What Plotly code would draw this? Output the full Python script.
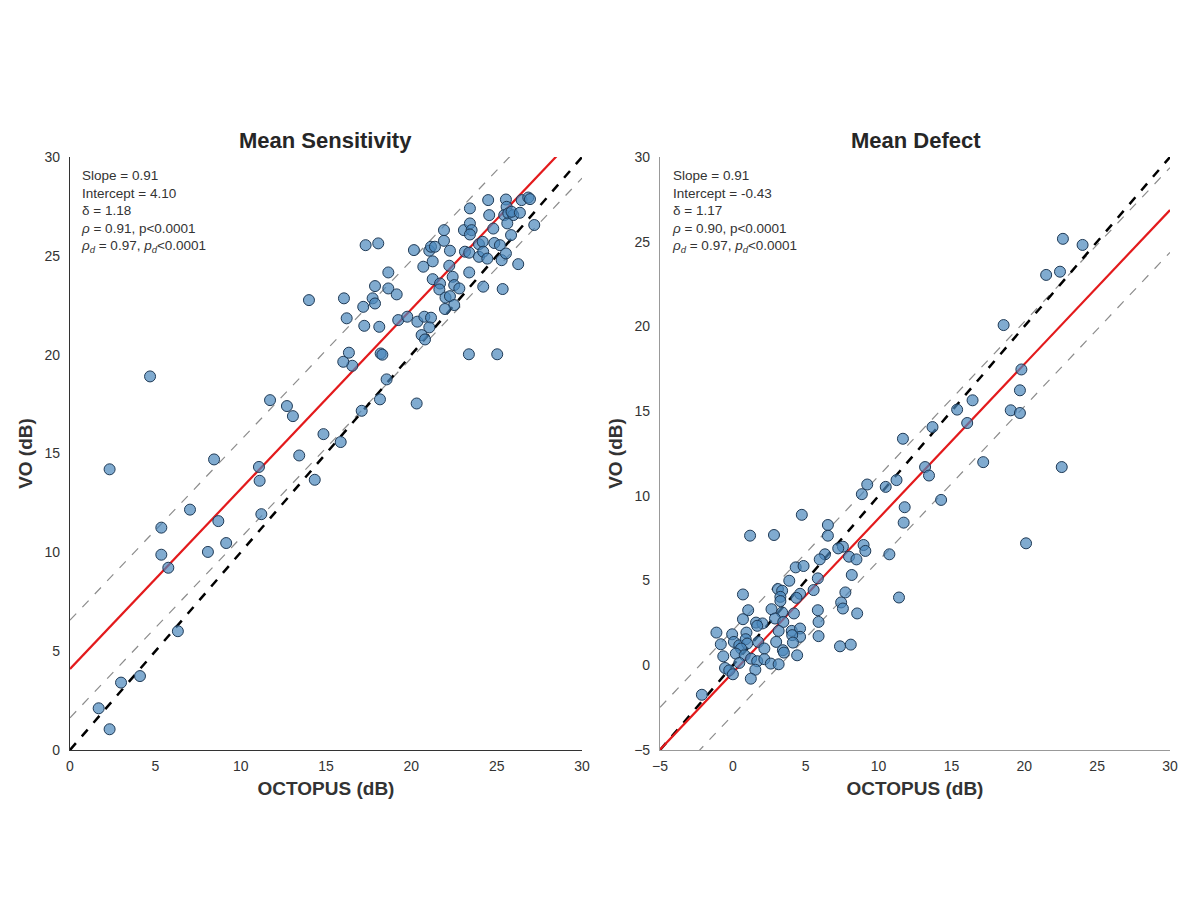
import plotly.graph_objects as go

# Mean Sensitivity panel (OCTOPUS vs VO, dB)
ms_octopus = [
    2.32, 8.44, 11.07, 11.11, 13.43, 14.34, 14.85, 15.86, 7.03, 5.35, 8.69, 11.21,
    5.35, 5.76, 8.08, 9.15, 6.32, 2.99, 4.10, 1.68, 2.32, 4.69, 11.72, 12.71, 13.06,
    14.00, 17.32, 18.06, 16.05, 16.21, 17.18, 17.73, 17.87, 17.87, 18.65, 18.65, 19.14,
    17.24, 18.12, 16.54, 16.01, 16.34, 18.20, 18.30, 18.55, 18.16, 17.09, 20.31, 19.23,
    19.76, 20.35, 20.76, 21.15, 21.05, 20.60, 20.80, 20.15, 21.05, 21.15, 21.38, 21.25,
    20.70, 21.91, 21.91, 22.26, 22.22, 21.25, 21.68, 21.64, 22.42, 22.51, 22.81, 22.00,
    22.26, 22.51, 21.97, 23.08, 23.43, 23.43, 23.53, 23.43, 23.14, 23.39, 23.39, 23.96,
    24.18, 23.96, 24.21, 24.45, 24.21, 24.50, 24.56, 24.80, 24.86, 25.19, 25.29, 25.54,
    25.35, 25.54, 25.58, 25.44, 25.68, 25.97, 25.62, 25.84, 25.87, 26.36, 26.46, 26.85,
    26.95, 27.20, 26.26, 23.37, 25.03,
]
ms_vo = [
    14.20, 14.70, 14.32, 13.62, 14.90, 13.67, 15.98, 15.58, 12.16, 11.25, 11.58, 11.93,
    9.88, 9.22, 10.02, 10.47, 6.01, 3.41, 3.74, 2.11, 1.05, 18.90, 17.70, 17.40, 16.89,
    22.76, 25.54, 25.63, 22.85, 21.84, 22.42, 22.85, 22.59, 23.47, 24.16, 23.35, 23.05,
    21.46, 21.41, 19.44, 19.64, 20.10, 20.06, 20.00, 18.75, 17.74, 17.16, 17.53, 21.75,
    21.92, 21.67, 21.92, 21.87, 21.38, 20.99, 20.77, 25.29, 25.26, 25.46, 25.46, 24.72,
    24.45, 25.76, 26.30, 25.26, 24.50, 23.82, 23.60, 23.30, 23.94, 23.52, 23.35, 22.89,
    22.96, 22.51, 22.31, 26.30, 27.40, 26.64, 26.30, 26.08, 25.21, 25.16, 24.16, 25.59,
    25.71, 24.95, 25.21, 24.86, 23.44, 27.82, 27.06, 26.38, 25.65, 25.54, 24.78, 25.12,
    23.32, 27.85, 27.48, 27.06, 27.15, 27.06, 26.64, 26.05, 27.23, 27.18, 27.82, 27.95,
    27.87, 26.56, 24.58, 20.02, 20.02,
]

# Mean Defect panel
md_octopus = [
    22.65, 24.00, 21.50, 22.45, 18.58, 19.80, 19.70, 19.07, 19.70, 16.45, 15.39, 16.08,
    13.70, 11.67, 17.18, 22.57, 13.19, 13.46,
    11.23, 10.49, 9.22, 8.85, 14.29, 11.79, 11.72, 4.73, 1.18, 2.82, 6.52, 6.52, 7.55,
    7.23, 8.97, 9.09, 10.74, 6.32, 5.96, 7.97, 8.48, 20.12, 4.31, 4.85, 8.16, 5.83, 3.87,
    3.09, 3.38, 0.69, 5.54, 4.61, 3.26, 4.36, 7.72, 11.40, 3.26, 7.43, 7.55, 1.05, 2.65,
    5.83, 8.53, 3.38, 4.19, 0.69, 1.59, 2.03, 2.89, 3.46, 5.88, 1.67, -1.13, -0.05, 0.93,
    3.14, 4.04, 4.61, 4.61, 4.07, 5.88, -0.83, 0.07, 0.44, 0.88, 0.98, 0.56, 1.74, 2.16,
    2.97, 4.12, 7.35, 8.09, -0.66, 0.20, 0.81, 3.43, 3.50, 4.41, 1.25, 1.67, 2.16, 2.60,
    3.14, 0.44, -0.54, -0.25, 0.00, 1.54, 1.23, -2.13,
]
md_vo = [
    25.17, 24.81, 23.04, 23.23, 20.08, 17.46, 16.23, 15.05, 14.89, 15.64, 15.09, 14.30,
    14.06, 13.37, 11.99, 11.70, 11.70, 11.20,
    10.93, 10.53, 10.67, 10.10, 9.76, 9.33, 8.42, 8.88, 7.65, 7.69, 8.28, 7.65, 7.00,
    6.90, 7.10, 6.75, 6.55, 6.55, 6.25, 6.41, 6.25, 7.20, 5.78, 5.86, 5.33, 5.13, 4.99,
    4.50, 4.40, 4.18, 4.44, 4.22, 4.04, 3.98, 4.30, 4.00, 3.79, 3.71, 3.35, 3.25, 3.31,
    3.25, 3.06, 3.12, 3.06, 2.72, 2.52, 2.47, 2.76, 2.56, 2.56, 2.33, 1.93, 1.83, 1.93,
    2.03, 2.03, 2.17, 1.68, 1.78, 1.72, 1.24, 1.38, 1.18, 1.54, 1.28, 0.99, 1.38, 0.99,
    1.38, 1.34, 1.12, 1.22, 0.53, 0.69, 0.59, 0.89, 0.75, 0.59, 0.39, 0.24, 0.36, 0.10,
    0.06, 0.14, -0.16, -0.30, -0.53, -0.26, -0.79, -1.74,
]

# fit results as printed on the chart
panels = [
    dict(name="Mean Sensitivity", x=ms_octopus, y=ms_vo, lo=0, hi=30,
         slope=0.91, intercept=4.10, band=2.47,
         stats=["Slope = 0.91", "Intercept = 4.10", "δ = 1.18",
                "<i>ρ</i> = 0.91, p&lt;0.0001",
                "<i>ρ<sub>d</sub></i> = 0.97, <i>p<sub>d</sub></i>&lt;0.0001"],
         spine="#333333"),
    dict(name="Mean Defect", x=md_octopus, y=md_vo, lo=-5, hi=30,
         slope=0.91, intercept=-0.43, band=2.50,
         stats=["Slope = 0.91", "Intercept = -0.43", "δ = 1.17",
                "<i>ρ</i> = 0.90, p&lt;0.0001",
                "<i>ρ<sub>d</sub></i> = 0.97, <i>p<sub>d</sub></i>&lt;0.0001"],
         spine="#999999"),
]

FONT = "Liberation Sans, Arial, sans-serif"
# plot area is 1100 x 593 px (margins below; page body adds 8px offset)
x_domains = [[0.0, 0.4655], [0.5364, 1.0]]
title_x = [0.2327, 0.769]
stats_x = [0.0085, 0.5455]

fig = go.Figure()
annotations = []

for i, p in enumerate(panels):
    xa = "x" if i == 0 else "x2"
    ya = "y" if i == 0 else "y2"
    ends = [p["lo"], p["hi"]]
    fit = [p["slope"] * v + p["intercept"] for v in ends]

    for off in (p["band"], -p["band"]):
        fig.add_trace(go.Scatter(
            x=ends, y=[f + off for f in fit], mode="lines", xaxis=xa, yaxis=ya,
            line=dict(color="#8c8c8c", width=1.2, dash="dash"), showlegend=False,
        ))
    fig.add_trace(go.Scatter(
        x=ends, y=ends, mode="lines", xaxis=xa, yaxis=ya,
        line=dict(color="black", width=2.5, dash="dash"), showlegend=False,
    ))
    fig.add_trace(go.Scatter(
        x=ends, y=fit, mode="lines", xaxis=xa, yaxis=ya,
        line=dict(color="#e31a1c", width=2.2), showlegend=False,
    ))
    fig.add_trace(go.Scatter(
        x=p["x"], y=p["y"], mode="markers", xaxis=xa, yaxis=ya,
        marker=dict(size=11, color="rgba(74,136,188,0.7)",
                    line=dict(color="#1f3a56", width=1)),
        showlegend=False,
    ))

    axis_common = dict(
        range=ends, showgrid=False, zeroline=False, showline=True,
        linecolor=p["spine"], linewidth=1.2, ticks="outside",
        tickcolor="rgba(0,0,0,0)", dtick=5, automargin=False,
        tickfont=dict(family=FONT, size=14, color="#333333"),
    )
    fig.layout["xaxis" if i == 0 else "xaxis2"] = dict(
        axis_common, domain=x_domains[i], anchor=ya, ticklen=3,
        title=dict(text="<b>OCTOPUS (dB)</b>", standoff=8,
                   font=dict(family=FONT, size=19, color="#333333")),
    )
    fig.layout["yaxis" if i == 0 else "yaxis2"] = dict(
        axis_common, domain=[0, 1], anchor=xa, ticklen=6,
        title=dict(text="<b>VO (dB)</b>", standoff=6,
                   font=dict(family=FONT, size=19, color="#333333")),
    )

    annotations.append(dict(
        text="<b>%s</b>" % p["name"], xref="paper", yref="paper",
        x=title_x[i], y=1.027, xanchor="center", yanchor="middle",
        showarrow=False, font=dict(family=FONT, size=22, color="#262626"),
    ))
    annotations.append(dict(
        text="<br>".join(p["stats"]), xref="paper", yref="paper",
        x=stats_x[i], y=0.985, xanchor="left", yanchor="top", align="left",
        showarrow=False, font=dict(family=FONT, size=13.5, color="#333333"),
    ))

fig.update_layout(
    width=1200, height=900,
    margin=dict(l=62, r=38, t=149, b=158, autoexpand=False),
    paper_bgcolor="white", plot_bgcolor="white",
    annotations=annotations,
)

fig.write_html("out.html")
